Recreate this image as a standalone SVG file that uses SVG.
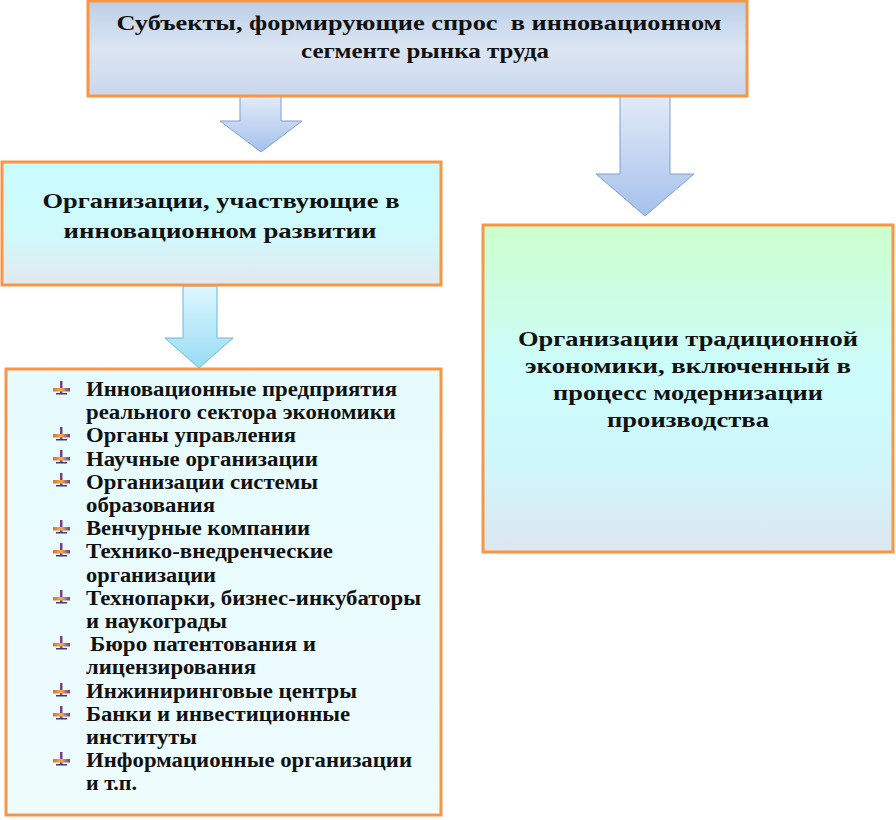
<svg xmlns="http://www.w3.org/2000/svg" xmlns:xlink="http://www.w3.org/1999/xlink" width="896" height="820" viewBox="0 0 896 820">
<style>
.box{stroke:#f79646;stroke-width:3}
.t{font-family:"Liberation Serif","Times New Roman",serif;font-weight:bold;fill:#111}
.h{font-size:22px;text-anchor:middle}
.m{font-size:22px;text-anchor:middle}
.l{font-size:20px}
.arr{stroke:#7f9fd0;stroke-width:1}
.arr3{stroke:#6cb8d8;stroke-width:1}
</style>
<defs>
<linearGradient id="gTop" x1="0" y1="0" x2="0" y2="1">
<stop offset="0" stop-color="#bccfe8"/><stop offset="0.5" stop-color="#dbe5f2"/><stop offset="1" stop-color="#cbd7ee"/>
</linearGradient>
<linearGradient id="gB2" x1="0" y1="0" x2="0" y2="1">
<stop offset="0" stop-color="#c9fbff"/><stop offset="0.55" stop-color="#cffafc"/><stop offset="1" stop-color="#e2e9ef"/>
</linearGradient>
<linearGradient id="gR" x1="0" y1="0" x2="0" y2="1">
<stop offset="0" stop-color="#ccffcc"/><stop offset="0.45" stop-color="#ccfcfc"/><stop offset="0.75" stop-color="#cff6fb"/><stop offset="1" stop-color="#dde6ef"/>
</linearGradient>
<linearGradient id="gL" x1="0" y1="0" x2="0" y2="1">
<stop offset="0" stop-color="#e6fbfd"/><stop offset="1" stop-color="#eefcfd"/>
</linearGradient>
<linearGradient id="gA" x1="0" y1="0" x2="0" y2="1">
<stop offset="0" stop-color="#e2ebf7"/><stop offset="1" stop-color="#a6c1ec"/>
</linearGradient>
<linearGradient id="gA3" x1="0" y1="0" x2="0" y2="1">
<stop offset="0" stop-color="#dcf7ff"/><stop offset="1" stop-color="#98dcf4"/>
</linearGradient>
<linearGradient id="gBul" x1="0" y1="0" x2="1" y2="0">
<stop offset="0" stop-color="#e0702a"/><stop offset="0.5" stop-color="#f0b040"/><stop offset="1" stop-color="#6a3a9a"/>
</linearGradient>
<g id="bul">
<rect x="60" y="-11" width="2.5" height="13" fill="#7a3f8a"/>
<rect x="53" y="-4" width="17" height="3.5" fill="url(#gBul)"/>
<rect x="56" y="1" width="11" height="1.5" fill="#3a3a8a"/>
</g>
</defs>

<g id="connectors">
<polygon class="arr" fill="url(#gA)" points="240,96 281,96 281,121 302,121 261,152 220,121 240,121"/>
<polygon class="arr" fill="url(#gA)" points="620,96 670,96 670,174 694,174 645,216 596,174 620,174"/>
<polygon class="arr3" fill="url(#gA3)" points="183,286 217,286 217,338 233,338 199,368 165,338 183,338"/>
</g>

<g id="top">
<rect class="box" x="88" y="1" width="659" height="95" fill="url(#gTop)"/>
<text class="t h" x="419" y="30" textLength="605" lengthAdjust="spacingAndGlyphs" xml:space="preserve">Субъекты, формирующие спрос  в инновационном</text>
<text class="t h" x="425" y="58" textLength="248" lengthAdjust="spacingAndGlyphs">сегменте рынка труда</text>
</g>

<g id="innov">
<rect class="box" x="2" y="162" width="439" height="123" fill="url(#gB2)"/>
<text class="t m" x="221" y="208" textLength="357" lengthAdjust="spacingAndGlyphs">Организации, участвующие в</text>
<text class="t m" x="220" y="238" textLength="313" lengthAdjust="spacingAndGlyphs">инновационном развитии</text>
</g>

<g id="trad">
<rect class="box" x="483" y="225" width="410" height="327" fill="url(#gR)"/>
<text class="t m" x="688" y="346" textLength="340" lengthAdjust="spacingAndGlyphs">Организации традиционной</text>
<text class="t m" x="688" y="373" textLength="326" lengthAdjust="spacingAndGlyphs">экономики, включенный в</text>
<text class="t m" x="688" y="400" textLength="270" lengthAdjust="spacingAndGlyphs">процесс модернизации</text>
<text class="t m" x="688" y="427" textLength="162" lengthAdjust="spacingAndGlyphs">производства</text>
</g>

<g id="list">
<rect class="box" x="6" y="369" width="435" height="446" fill="url(#gL)"/>
<use xlink:href="#bul" y="392"/>
<use xlink:href="#bul" y="438"/>
<use xlink:href="#bul" y="461"/>
<use xlink:href="#bul" y="484"/>
<use xlink:href="#bul" y="531"/>
<use xlink:href="#bul" y="554"/>
<use xlink:href="#bul" y="601"/>
<use xlink:href="#bul" y="647"/>
<use xlink:href="#bul" y="694"/>
<use xlink:href="#bul" y="717"/>
<use xlink:href="#bul" y="763"/>
<text class="t l" x="86" y="396" textLength="311" lengthAdjust="spacingAndGlyphs">Инновационные предприятия</text>
<text class="t l" x="86" y="419" textLength="310" lengthAdjust="spacingAndGlyphs">реального сектора экономики</text>
<text class="t l" x="86" y="442" textLength="210" lengthAdjust="spacingAndGlyphs">Органы управления</text>
<text class="t l" x="86" y="466" textLength="232" lengthAdjust="spacingAndGlyphs">Научные организации</text>
<text class="t l" x="86" y="489" textLength="232" lengthAdjust="spacingAndGlyphs">Организации системы</text>
<text class="t l" x="86" y="512" textLength="129" lengthAdjust="spacingAndGlyphs">образования</text>
<text class="t l" x="86" y="535" textLength="224" lengthAdjust="spacingAndGlyphs">Венчурные компании</text>
<text class="t l" x="86" y="558" textLength="247" lengthAdjust="spacingAndGlyphs">Технико-внедренческие</text>
<text class="t l" x="86" y="582" textLength="130" lengthAdjust="spacingAndGlyphs">организации</text>
<text class="t l" x="86" y="605" textLength="335" lengthAdjust="spacingAndGlyphs">Технопарки, бизнес-инкубаторы</text>
<text class="t l" x="86" y="628" textLength="141" lengthAdjust="spacingAndGlyphs">и наукограды</text>
<text class="t l" x="90" y="651" textLength="226" lengthAdjust="spacingAndGlyphs">Бюро патентования и</text>
<text class="t l" x="86" y="674" textLength="170" lengthAdjust="spacingAndGlyphs">лицензирования</text>
<text class="t l" x="86" y="698" textLength="271" lengthAdjust="spacingAndGlyphs">Инжиниринговые центры</text>
<text class="t l" x="86" y="721" textLength="264" lengthAdjust="spacingAndGlyphs">Банки и инвестиционные</text>
<text class="t l" x="86" y="744" textLength="111" lengthAdjust="spacingAndGlyphs">институты</text>
<text class="t l" x="86" y="767" textLength="326" lengthAdjust="spacingAndGlyphs">Информационные организации</text>
<text class="t l" x="86" y="790" textLength="51" lengthAdjust="spacingAndGlyphs">и т.п.</text>
</g>
</svg>
